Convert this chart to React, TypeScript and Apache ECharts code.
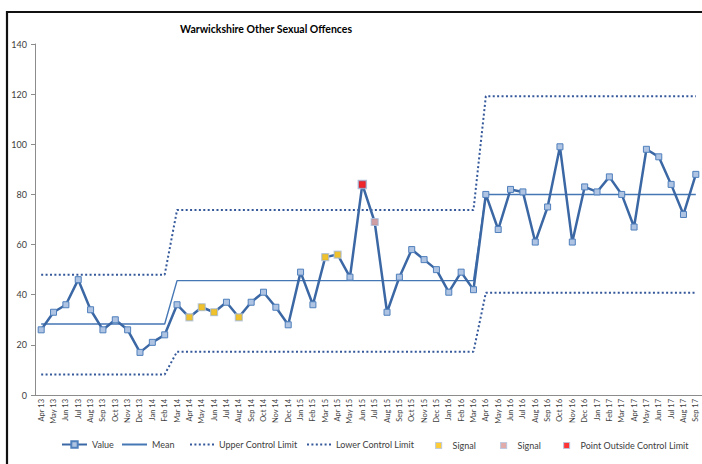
import React, { useEffect, useRef } from "react";
import * as echarts from "echarts";

const categories = [
  "Apr 13", "May 13", "Jun 13", "Jul 13", "Aug 13", "Sep 13", "Oct 13", "Nov 13", "Dec 13", "Jan 14", "Feb 14", "Mar 14",
  "Apr 14", "May 14", "Jun 14", "Jul 14", "Aug 14", "Sep 14", "Oct 14", "Nov 14", "Dec 14", "Jan 15", "Feb 15", "Mar 15",
  "Apr 15", "May 15", "Jun 15", "Jul 15", "Aug 15", "Sep 15", "Oct 15", "Nov 15", "Dec 15", "Jan 16", "Feb 16", "Mar 16",
  "Apr 16", "May 16", "Jun 16", "Jul 16", "Aug 16", "Sep 16", "Oct 16", "Nov 16", "Dec 16", "Jan 17", "Feb 17", "Mar 17",
  "Apr 17", "May 17", "Jun 17", "Jul 17", "Aug 17", "Sep 17",
];

const values = [
  26, 33, 36, 46, 34, 26, 30, 26, 17, 21, 24, 36,
  31, 35, 33, 37, 31, 37, 41, 35, 28, 49, 36, 55,
  56, 47, 84, 69, 33, 47, 58, 54, 50, 41, 49, 42,
  80, 66, 82, 81, 61, 75, 99, 61, 83, 81, 87, 80,
  67, 98, 95, 84, 72, 88,
];

const mean = [
  28.3, 28.3, 28.3, 28.3, 28.3, 28.3, 28.3, 28.3, 28.3, 28.3, 28.3, 45.6,
  45.6, 45.6, 45.6, 45.6, 45.6, 45.6, 45.6, 45.6, 45.6, 45.6, 45.6, 45.6,
  45.6, 45.6, 45.6, 45.6, 45.6, 45.6, 45.6, 45.6, 45.6, 45.6, 45.6, 45.6,
  80, 80, 80, 80, 80, 80, 80, 80, 80, 80, 80, 80,
  80, 80, 80, 80, 80, 80,
];

const upperLimit = [
  48, 48, 48, 48, 48, 48, 48, 48, 48, 48, 48, 73.8,
  73.8, 73.8, 73.8, 73.8, 73.8, 73.8, 73.8, 73.8, 73.8, 73.8, 73.8, 73.8,
  73.8, 73.8, 73.8, 73.8, 73.8, 73.8, 73.8, 73.8, 73.8, 73.8, 73.8, 73.8,
  119.2, 119.2, 119.2, 119.2, 119.2, 119.2, 119.2, 119.2, 119.2, 119.2, 119.2, 119.2,
  119.2, 119.2, 119.2, 119.2, 119.2, 119.2,
];

const lowerLimit = [
  8.2, 8.2, 8.2, 8.2, 8.2, 8.2, 8.2, 8.2, 8.2, 8.2, 8.2, 17.3,
  17.3, 17.3, 17.3, 17.3, 17.3, 17.3, 17.3, 17.3, 17.3, 17.3, 17.3, 17.3,
  17.3, 17.3, 17.3, 17.3, 17.3, 17.3, 17.3, 17.3, 17.3, 17.3, 17.3, 17.3,
  40.8, 40.8, 40.8, 40.8, 40.8, 40.8, 40.8, 40.8, 40.8, 40.8, 40.8, 40.8,
  40.8, 40.8, 40.8, 40.8, 40.8, 40.8,
];

const signalYellow = [
  ["Apr 14", 31], ["May 14", 35], ["Jun 14", 33], ["Aug 14", 31], ["Mar 15", 55], ["Apr 15", 56],
];
const signalPink = [["Jul 15", 69]];
const outsideLimit = [["Jun 15", 84]];

const yTicks = { min: 0, max: 140, interval: 20 };

const FONT = "Lato, 'Open Sans', sans-serif";
const LINE_BLUE = "#3B68A4";
const LIMIT_BLUE = "#34589A";
const TEXT = "#404040";

export default function App() {
  const ref = useRef<HTMLDivElement>(null);

  useEffect(() => {
    if (!ref.current) return;
    const chart = echarts.init(ref.current, undefined, { renderer: "svg" });
    const legendText = { fontFamily: FONT, fontSize: 9, color: TEXT };
    const sq = (fill: string) => ({
      color: fill,
      borderColor: "#B4C6E0",
      borderWidth: 1.2,
    });
    const noSymbol = { color: "transparent", borderColor: "transparent", borderWidth: 0, opacity: 0 };
    chart.setOption({
      animation: false,
      backgroundColor: "#fff",
      textStyle: { fontFamily: FONT },
      graphic: [
        {
          type: "rect",
          shape: { x: 7, y: 12, width: 720, height: 480 },
          style: { fill: "none", stroke: "#111", lineWidth: 2.2 },
          silent: true,
        },
        {
          type: "text",
          x: 266,
          y: 29,
          style: {
            text: "Warwickshire Other Sexual Offences",
            textAlign: "center",
            textVerticalAlign: "middle",
            fontFamily: FONT,
            fontWeight: "bold",
            fontSize: 10.5,
            fill: "#000",
          },
        },
      ],
      grid: { left: 35, right: 0, top: 44, bottom: 69, containLabel: false },
      xAxis: {
        type: "category",
        data: categories,
        boundaryGap: true,
        axisLine: { lineStyle: { color: "#8C8C8C", width: 1 } },
        axisTick: { show: false },
        axisLabel: {
          rotate: 90,
          interval: 0,
          fontSize: 7.5,
          fontFamily: FONT,
          color: TEXT,
          margin: 4,
        },
      },
      yAxis: {
        type: "value",
        min: yTicks.min,
        max: yTicks.max,
        interval: yTicks.interval,
        splitLine: { show: false },
        axisLine: { show: true, lineStyle: { color: "#8C8C8C", width: 1 } },
        axisTick: { show: true, length: 4, lineStyle: { color: "#8C8C8C" } },
        axisLabel: { fontSize: 9, fontFamily: FONT, color: TEXT, margin: 8 },
      },
      legend: [
        { data: ["Value"], left: 61, top: 440, padding: 0, itemWidth: 25, itemHeight: 8, textStyle: legendText },
        { data: [{ name: "Mean", itemStyle: noSymbol }], left: 121, top: 440, padding: 0, itemWidth: 25, itemHeight: 8, textStyle: legendText },
        { data: [{ name: "Upper Control Limit", itemStyle: noSymbol }], left: 189, top: 440, padding: 0, itemWidth: 24, itemHeight: 8, textStyle: legendText },
        { data: [{ name: "Lower Control Limit", itemStyle: noSymbol }], left: 306, top: 440, padding: 0, itemWidth: 24, itemHeight: 8, textStyle: legendText },
        {
          data: [{ name: "Signal", icon: "rect", itemStyle: sq("#FFC000") }],
          left: 435, top: 441, padding: 0, itemWidth: 6, itemHeight: 6, textStyle: { ...legendText, padding: [0, 0, 0, 6] },
        },
        {
          data: [{ name: "Signal", icon: "rect", itemStyle: sq("#D99694") }],
          left: 500, top: 441, padding: 0, itemWidth: 6, itemHeight: 6, textStyle: { ...legendText, padding: [0, 0, 0, 6] },
        },
        {
          data: [{ name: "Point Outside Control Limit", icon: "rect", itemStyle: sq("#FF0000") }],
          left: 563, top: 441, padding: 0, itemWidth: 6, itemHeight: 6, textStyle: { ...legendText, padding: [0, 0, 0, 6] },
        },
      ],
      series: [
        {
          name: "Upper Control Limit",
          type: "line",
          data: upperLimit,
          symbol: "none",
          lineStyle: { color: LIMIT_BLUE, width: 2, type: [2, 2.4] },
          itemStyle: { color: LIMIT_BLUE },
          z: 1,
        },
        {
          name: "Lower Control Limit",
          type: "line",
          data: lowerLimit,
          symbol: "none",
          lineStyle: { color: LIMIT_BLUE, width: 2, type: [2, 2.4] },
          itemStyle: { color: LIMIT_BLUE },
          z: 1,
        },
        {
          name: "Mean",
          type: "line",
          data: mean,
          symbol: "none",
          lineStyle: { color: "#4677B5", width: 1.4 },
          itemStyle: { color: "#4677B5" },
          z: 2,
        },
        {
          name: "Value",
          type: "line",
          data: values,
          symbol: "rect",
          symbolSize: 6,
          showAllSymbol: true,
          lineStyle: { color: LINE_BLUE, width: 2.5 },
          itemStyle: { color: "#AFC4E2", borderColor: "#4F7FBC", borderWidth: 1 },
          z: 3,
        },
        {
          name: "Signal",
          type: "scatter",
          data: signalYellow,
          symbol: "rect",
          symbolSize: 7,
          itemStyle: sq("#FFC000"),
          z: 4,
        },
        {
          name: "Signal",
          type: "scatter",
          data: signalPink,
          symbol: "rect",
          symbolSize: 7,
          itemStyle: sq("#D99694"),
          z: 4,
        },
        {
          name: "Point Outside Control Limit",
          type: "scatter",
          data: outsideLimit,
          symbol: "rect",
          symbolSize: 8,
          itemStyle: { color: "#FF0000", borderColor: "#9FB6D8", borderWidth: 1.5 },
          z: 4,
        },
      ],
    });
    return () => chart.dispose();
  }, []);

  return (
    <div
      ref={ref}
      style={{ position: "fixed", left: 0, top: 0, width: 702, height: 464 }}
    />
  );
}
